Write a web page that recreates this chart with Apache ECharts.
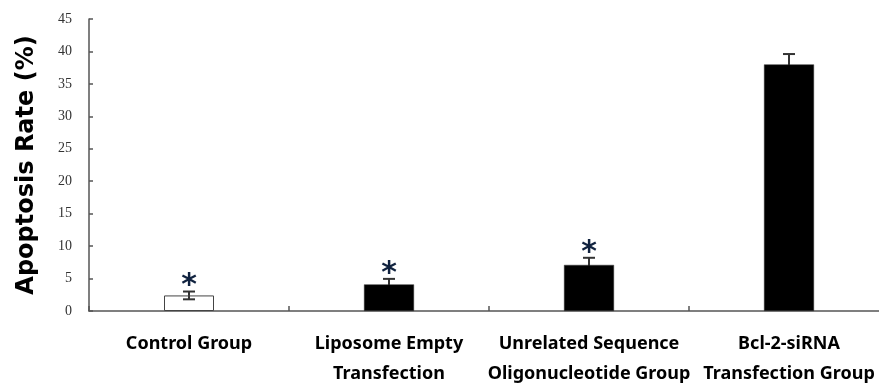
<!DOCTYPE html>
<html>
<head>
<meta charset="utf-8">
<script src="https://cdn.jsdelivr.net/npm/echarts@6/dist/echarts.min.js"></script>
<style>html,body{margin:0;padding:0;background:#fff;}#c{width:879px;height:383px;}</style>
</head>
<body>
<div id="c"></div>
<script>
const categories = ["Control Group", "Liposome Empty\nTransfection", "Unrelated Sequence\nOligonucleotide Group", "Bcl-2-siRNA\nTransfection Group"];
const means = [2.4, 4.1, 7.1, 38.0];
const errors = [0.6, 0.85, 1.1, 1.6];
const significant = [true, true, true, false];
const yTicks = [0, 5, 10, 15, 20, 25, 30, 35, 40, 45];

const chart = echarts.init(document.getElementById('c'));
const errData = means.map((m, i) => [i, m - errors[i], m + errors[i]]);
const starData = means.map((m, i) => significant[i] ? [i, m + errors[i]] : null).filter(d => d);

chart.setOption({
  animation: false,
  grid: { left: 89, top: 19, bottom: 72, right: -10, containLabel: false, outerBoundsMode: 'none' },
  xAxis: {
    type: 'category',
    data: categories,
    axisLine: { lineStyle: { color: '#555', width: 1.5 } },
    axisTick: { show: true, inside: true, length: 5, alignWithLabel: false, lineStyle: { color: '#555', width: 1.5 } },
    axisLabel: { interval: 0, color: '#000', fontFamily: 'Noto Sans', fontWeight: 'bold', fontSize: 18, lineHeight: 30, margin: 18, verticalAlign: 'top' }
  },
  yAxis: {
    type: 'value', min: yTicks[0], max: yTicks[yTicks.length - 1], interval: 5,
    name: 'Apoptosis Rate (%)', nameLocation: 'middle', nameGap: 50,
    nameTextStyle: { fontFamily: 'DejaVu Sans', fontWeight: 'bold', fontSize: 24, color: '#000' },
    axisLine: { show: true, lineStyle: { color: '#555', width: 1.5 } },
    axisTick: { show: true, inside: true, length: 4, lineStyle: { color: '#555', width: 1.5 } },
    splitLine: { show: false },
    axisLabel: { color: '#333', fontFamily: 'Liberation Serif', fontSize: 14, margin: 17 }
  },
  series: [
    {
      type: 'bar', data: means.map((v, i) => ({ value: v, itemStyle: i === 0 ? { color: 'rgba(255,255,255,0)', borderColor: '#444', borderWidth: 1 } : { color: '#000', borderColor: '#333', borderWidth: 0.5 } })),
      barWidth: 50, z: 3
    },
    {
      type: 'custom', z: 2,
      renderItem: function (params, api) {
        const x = api.coord([api.value(0), 0])[0];
        const lo = api.coord([api.value(0), api.value(1)])[1];
        const hi = api.coord([api.value(0), api.value(2)])[1];
        const hw = 6;
        const st = { stroke: '#333', lineWidth: 2 };
        return { type: 'group', children: [
          { type: 'line', shape: { x1: x, y1: lo, x2: x, y2: hi }, style: st },
          { type: 'line', shape: { x1: x - hw, y1: hi, x2: x + hw, y2: hi }, style: st },
          { type: 'line', shape: { x1: x - hw, y1: lo, x2: x + hw, y2: lo }, style: st }
        ] };
      },
      data: errData
    },
    {
      type: 'custom', z: 4,
      renderItem: function (params, api) {
        const p = api.coord([api.value(0), api.value(1)]);
        return { type: 'text', style: { text: '*', x: p[0], y: p[1] + 10, align: 'center', verticalAlign: 'bottom', fontSize: 30, fontWeight: 'bold', fontFamily: 'DejaVu Sans', fill: '#10223f' } };
      },
      data: starData
    }
  ]
});
</script>
</body>
</html>
